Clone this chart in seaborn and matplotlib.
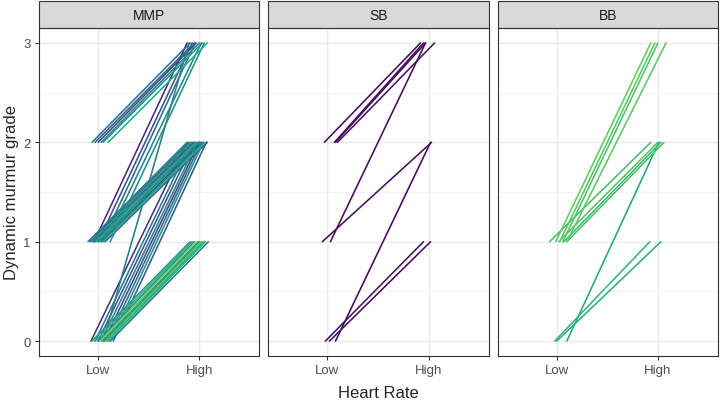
import numpy as np
import pandas as pd
import seaborn as sns
import matplotlib
matplotlib.use("Agg")
import matplotlib.pyplot as plt
from matplotlib.patches import Rectangle

# Lines: grade at Low / High heart rate, jittered x, colour score
groups = ["MMP", "SB", "BB"]

mmp_low_g = [2, 2, 2, 2, 2, 2,
             1, 1, 1, 1, 1,
             0,
             1, 1, 1, 1, 1, 1, 1, 1, 1, 1, 1, 1,
             0, 0, 0, 0, 0, 0, 0, 0,
             0, 0, 0, 0, 0, 0, 0, 0, 0, 0]
mmp_high_g = [3, 3, 3, 3, 3, 3,
              3, 3, 3, 3, 3,
              3,
              2, 2, 2, 2, 2, 2, 2, 2, 2, 2, 2, 2,
              2, 2, 2, 2, 2, 2, 2, 2,
              1, 1, 1, 1, 1, 1, 1, 1, 1, 1]
mmp_low_x = [0.94, 0.97, 1.00, 1.03, 1.05, 1.10,
             0.96, 1.00, 1.04, 1.07, 1.12,
             1.05,
             0.90, 0.92, 0.94, 0.95, 0.97, 0.98, 1.00, 1.01, 1.03, 1.04, 1.05, 1.07,
             0.93, 0.97, 1.00, 1.03, 1.06, 1.09, 1.12, 1.15,
             0.94, 0.97, 1.00, 1.02, 1.04, 1.06, 1.08, 1.09, 1.10, 1.12]
mmp_high_x = [1.91, 1.95, 1.97, 2.00, 2.03, 2.08,
              1.88, 1.93, 1.96, 2.02, 2.05,
              1.90,
              1.88, 1.90, 1.92, 1.94, 1.96, 1.97, 1.99, 2.00, 2.02, 2.04, 2.06, 2.08,
              1.88, 1.92, 1.95, 1.98, 2.00, 2.02, 2.04, 2.07,
              1.91, 1.93, 1.95, 1.97, 1.99, 2.00, 2.02, 2.04, 2.06, 2.09]
mmp_score = [0.40, 0.30, 0.20, 0.45, 0.55, 0.62,
             0.12, 0.25, 0.35, 0.45, 0.50,
             0.42,
             0.45, 0.30, 0.55, 0.20, 0.40, 0.60, 0.35, 0.50, 0.15, 0.45, 0.62, 0.30,
             0.15, 0.40, 0.25, 0.45, 0.20, 0.35, 0.50, 0.28,
             0.55, 0.62, 0.45, 0.80, 0.60, 0.50, 0.72, 0.58, 0.65, 0.40]

sb_low_g = [2, 2, 2, 2, 1, 1, 0, 0, 0]
sb_high_g = [3, 3, 3, 3, 3, 2, 2, 1, 1]
sb_low_x = [0.97, 1.07, 1.08, 1.10, 1.03, 0.95, 1.08, 0.98, 1.02]
sb_high_x = [1.92, 1.95, 1.97, 2.06, 1.97, 2.03, 2.02, 1.95, 2.02]
sb_score = [0.03, 0.04, 0.02, 0.05, 0.03, 0.04, 0.02, 0.04, 0.03]

bb_low_g = [1, 1, 1, 1, 1, 1, 1, 1, 0, 0, 0]
bb_high_g = [3, 3, 3, 3, 2, 2, 2, 2, 2, 1, 1]
bb_low_x = [0.99, 1.03, 1.06, 1.10, 0.93, 1.02, 1.07, 1.10, 1.10, 0.98, 1.00]
bb_high_x = [1.93, 1.97, 2.00, 2.08, 1.93, 2.00, 2.03, 2.06, 2.01, 1.92, 2.03]
bb_score = [0.76, 0.74, 0.72, 0.75, 0.70, 0.73, 0.68, 0.71, 0.60, 0.66, 0.64]

hr_labels = ["Low", "High"]

rows = []
pid = 0
for grp, lg, hg, lx, hx, sc in [
        ("MMP", mmp_low_g, mmp_high_g, mmp_low_x, mmp_high_x, mmp_score),
        ("SB", sb_low_g, sb_high_g, sb_low_x, sb_high_x, sb_score),
        ("BB", bb_low_g, bb_high_g, bb_low_x, bb_high_x, bb_score)]:
    for i in range(len(lg)):
        rows.append(dict(group=grp, pid=pid, hr=lx[i], grade=lg[i], score=sc[i]))
        rows.append(dict(group=grp, pid=pid, hr=hx[i], grade=hg[i], score=sc[i]))
        pid += 1
df = pd.DataFrame(rows)

sns.set_theme(style="white")
plt.rcParams["font.family"] = ["Liberation Sans", "DejaVu Sans"]

g = sns.FacetGrid(df, col="group", col_order=groups, sharex=True, sharey=True,
                  height=3.28, aspect=0.67, despine=False)
g.map_dataframe(sns.lineplot, x="hr", y="grade", units="pid", estimator=None,
                hue="score", palette="viridis", hue_norm=(0, 1), sort=False,
                legend=False, linewidth=1.15)

fig = g.figure
fig.set_size_inches(7.22, 4.10)
fig.subplots_adjust(left=39 / 722, right=718 / 722, bottom=1 - 357 / 410,
                    top=1 - 29 / 410, wspace=9 / 220)

strip_h = 27 / 328
for i, ax in enumerate(g.axes.flat):
    ax.set_xlim(0.416, 2.594)
    ax.set_ylim(-0.15, 3.15)
    ax.set_xticks([1, 2])
    ax.set_xticklabels(hr_labels)
    ax.set_yticks([0, 1, 2, 3])
    ax.set_yticks([0.5, 1.5, 2.5], minor=True)
    ax.grid(which="major", color="#ebebeb", linewidth=1.0)
    ax.grid(which="minor", axis="y", color="#f4f4f4", linewidth=0.6)
    ax.set_axisbelow(True)
    for s in ax.spines.values():
        s.set_color("#333333")
        s.set_linewidth(0.8)
    ax.tick_params(which="major", length=3, width=0.8, color="#333333",
                   labelsize=9.5, labelcolor="#4d4d4d", pad=3,
                   bottom=True, left=(i == 0))
    ax.tick_params(which="minor", length=0)
    ax.set_title("")
    ax.set_xlabel("")
    ax.set_ylabel("")
    ax.add_patch(Rectangle((0, 1), 1, strip_h, transform=ax.transAxes,
                           clip_on=False, facecolor="#d9d9d9",
                           edgecolor="#333333", linewidth=0.8))
    ax.text(0.5, 1 + strip_h / 2, groups[i], transform=ax.transAxes,
            ha="center", va="center", fontsize=10, color="#1a1a1a")

fig.text((39 + 718) / 2 / 722, 1 - 394 / 410, "Heart Rate", ha="center",
         va="center", fontsize=12)
fig.text(12 / 722, 1 - 193 / 410, "Dynamic murmur grade", ha="center",
         va="center", rotation=90, fontsize=12)

fig.savefig("out.png", dpi=100)
